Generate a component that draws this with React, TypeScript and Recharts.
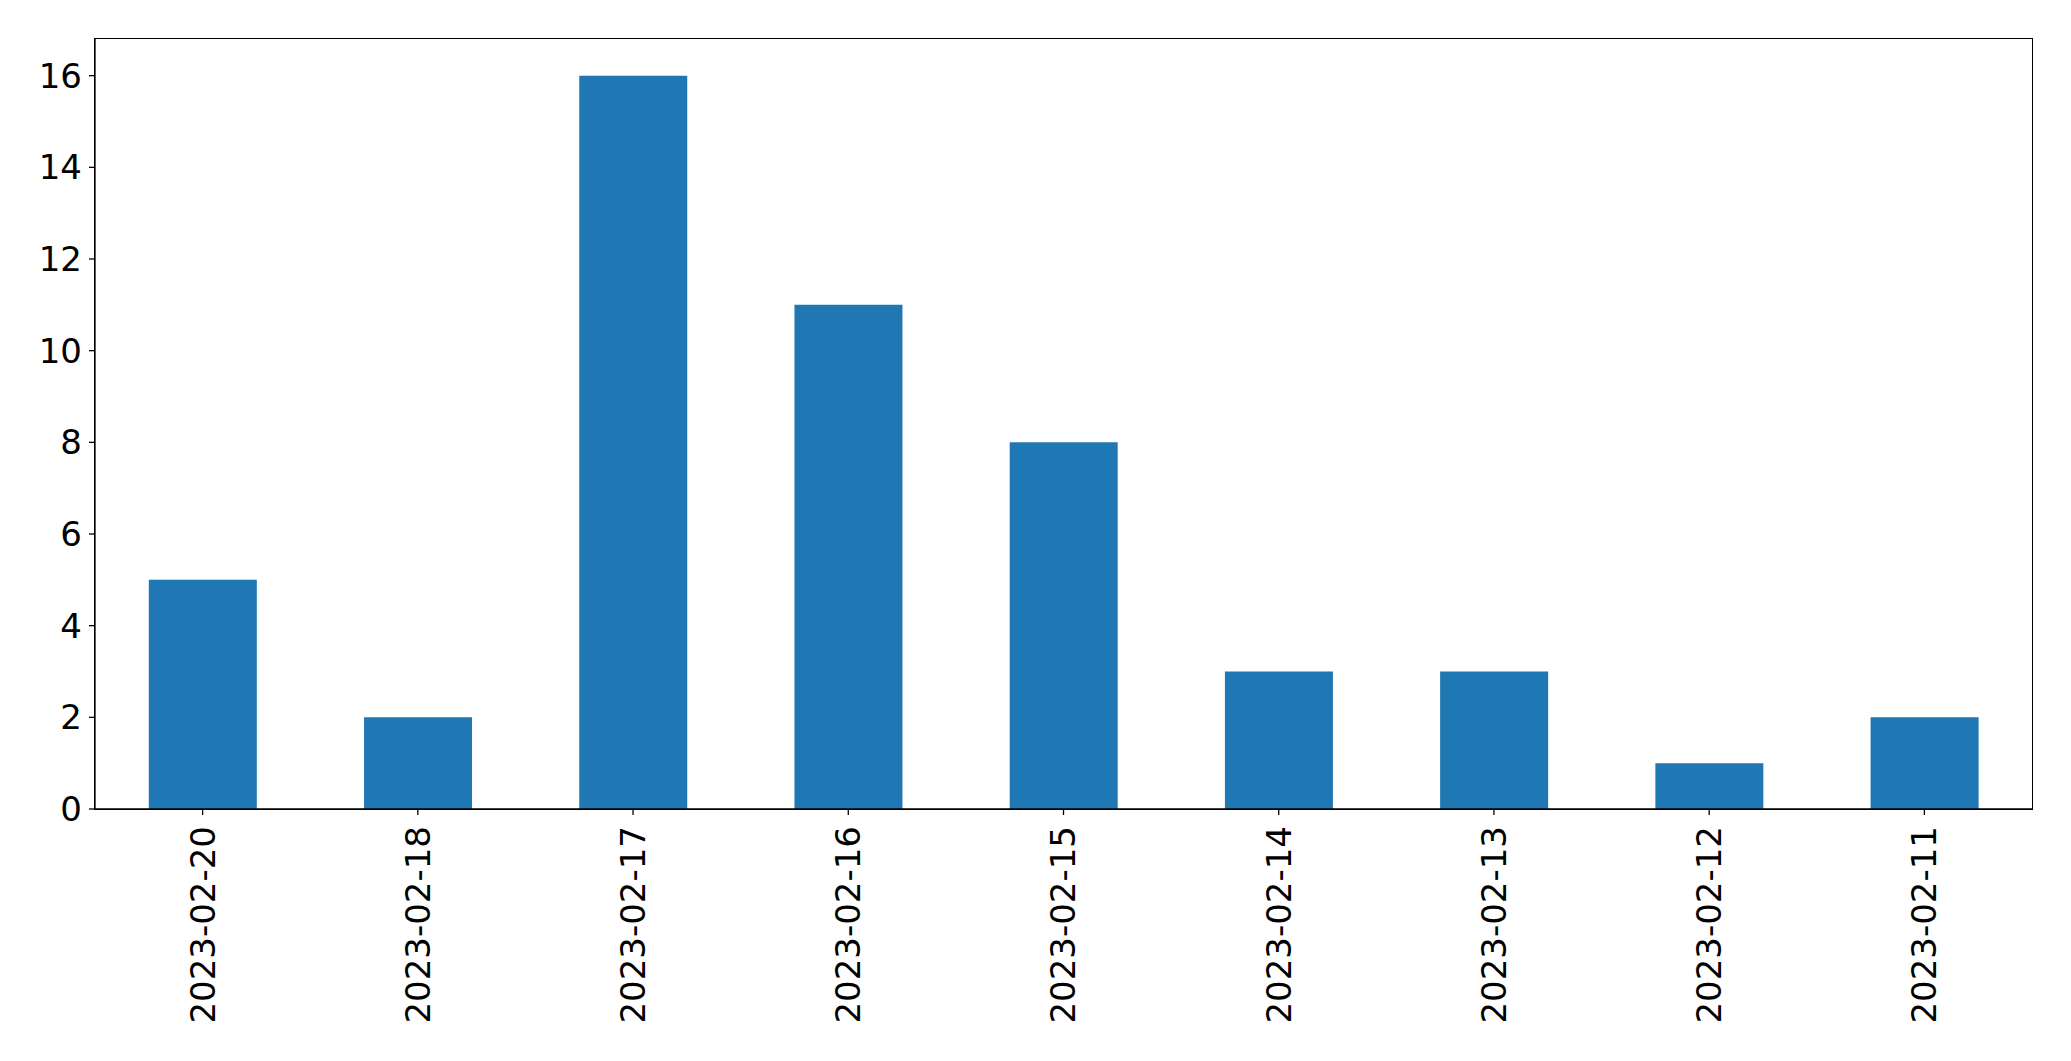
import { BarChart, Bar, XAxis, YAxis } from "recharts";

const dates = [
  "2023-02-20",
  "2023-02-18",
  "2023-02-17",
  "2023-02-16",
  "2023-02-15",
  "2023-02-14",
  "2023-02-13",
  "2023-02-12",
  "2023-02-11",
];
const counts = [5, 2, 16, 11, 8, 3, 3, 1, 2];
const yTicks = [0, 2, 4, 6, 8, 10, 12, 14, 16];

const data = dates.map((date, i) => ({ date, count: counts[i] }));

const font = "'DejaVu Sans', sans-serif";

// plot box, shared by the chart margins and the frame
const W = 2071;
const H = 1061;
const M = { top: 39, right: 39, bottom: 22, left: 0 };
const Y_W = 95;
const X_H = 230;

const DateTick = (props: any) => {
  const { x, y, payload } = props;
  return (
    <g transform={`translate(${x},${y})`}>
      <text
        transform="rotate(-90)"
        textAnchor="end"
        dy="0.35em"
        fontSize={34}
        fontFamily={font}
        fill="#000"
      >
        {payload.value}
      </text>
    </g>
  );
};

export default function App() {
  const boxLeft = M.left + Y_W;
  const boxTop = M.top;
  const boxW = W - M.right - boxLeft;
  const boxH = H - M.bottom - X_H - boxTop;
  return (
    <div style={{ position: "absolute", left: 0, top: 0, background: "#fff" }}>
      <BarChart
        width={W}
        height={H}
        data={data}
        margin={M}
        barCategoryGap="25%"
      >
        <XAxis
          dataKey="date"
          interval={0}
          height={X_H}
          tickSize={6}
          tickMargin={11}
          tick={<DateTick />}
          axisLine={{ stroke: "#000", strokeWidth: 1.3 }}
          tickLine={{ stroke: "#000", strokeWidth: 1.3 }}
        />
        <YAxis
          width={Y_W}
          domain={[0, 16.8]}
          ticks={yTicks}
          tickSize={6}
          tickMargin={7}
          tick={{ fontSize: 34, fontFamily: font, fill: "#000" }}
          axisLine={{ stroke: "#000", strokeWidth: 1.3 }}
          tickLine={{ stroke: "#000", strokeWidth: 1.3 }}
        />
        <Bar dataKey="count" fill="#1f77b4" isAnimationActive={false} />
      </BarChart>
      <div
        style={{
          position: "absolute",
          left: boxLeft - 0.65,
          top: boxTop - 0.65,
          width: boxW,
          height: boxH,
          border: "1.3px solid #000",
          pointerEvents: "none",
        }}
      />
    </div>
  );
}
